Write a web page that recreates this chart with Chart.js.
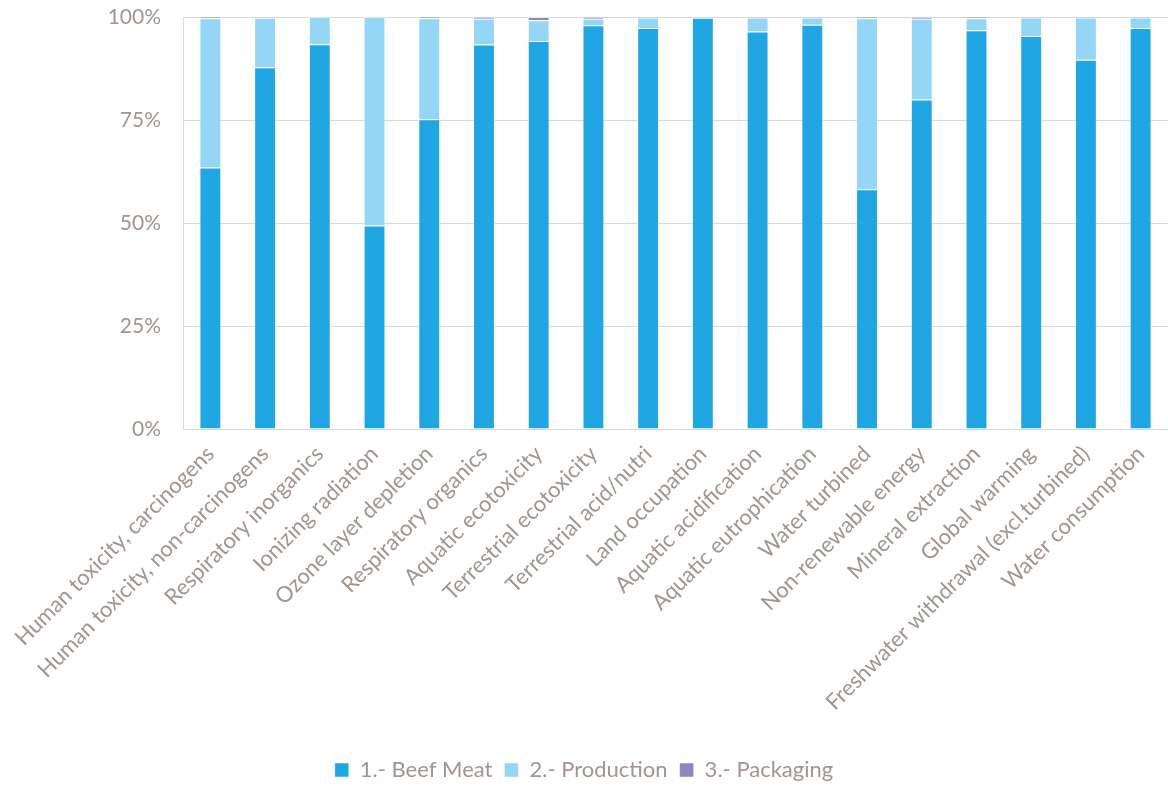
<!DOCTYPE html>
<html>
<head>
<meta charset="utf-8">
<script src="https://cdn.jsdelivr.net/npm/chart.js@4"></script>
<style>
  body { margin: 0; background: #fff; }
  #wrap { width: 1168px; height: 785px; position: relative; }
</style>
</head>
<body>
<div id="wrap"><canvas id="chart"></canvas></div>
<script>
const categories = [
  'Human toxicity, carcinogens', 'Human toxicity, non-carcinogens', 'Respiratory inorganics',
  'Ionizing radiation', 'Ozone layer depletion', 'Respiratory organics', 'Aquatic ecotoxicity',
  'Terrestrial ecotoxicity', 'Terrestrial acid/nutri', 'Land occupation', 'Aquatic acidification',
  'Aquatic eutrophication', 'Water turbined', 'Non-renewable energy', 'Mineral extraction',
  'Global warming', 'Freshwater withdrawal (excl.turbined)', 'Water consumption'
];

// percentages
const beefMeat   = [63.5, 87.8, 93.4, 49.4, 75.2, 93.3, 94.2, 98.0, 97.3, 99.8, 96.5, 98.1, 58.2, 80.0, 96.8, 95.4, 89.6, 97.3];
const production = [36.2, 12.0, 6.6, 50.6, 24.5, 6.3, 5.0, 1.6, 2.6, 0.2, 3.4, 1.8, 41.5, 19.6, 2.9, 4.5, 10.3, 2.6];
const packaging  = [0.3, 0.2, 0.0, 0.0, 0.3, 0.4, 0.8, 0.4, 0.1, 0.0, 0.1, 0.1, 0.3, 0.4, 0.3, 0.1, 0.1, 0.1];

const yTicks = [0, 25, 50, 75, 100];

const textColor = '#A0958F';
const fontFamily = 'Lato, "Open Sans", sans-serif';

const ctx = document.getElementById('chart').getContext('2d');
new Chart(ctx, {
  type: 'bar',
  data: {
    labels: categories,
    datasets: [
      { label: '1.- Beef Meat', data: beefMeat, backgroundColor: '#20A6E2' },
      { label: '2.- Production', data: production, backgroundColor: '#95D5F6' },
      { label: '3.- Packaging', data: packaging, backgroundColor: '#8E86BE' }
    ]
  },
  options: {
    responsive: true,
    maintainAspectRatio: false,
    animation: false,
    datasets: {
      bar: {
        barPercentage: 0.4,
        categoryPercentage: 1.0,
        borderColor: 'rgba(255,255,255,0.45)',
        borderWidth: 1
      }
    },
    layout: { padding: { top: 0, left: 0, right: 0, bottom: -6 } },
    scales: {
      x: {
        stacked: true,
        grid: { display: false },
        border: { display: true, color: '#D9D9D9', width: 1 },
        ticks: {
          color: textColor,
          font: { family: fontFamily, size: 22 },
          autoSkip: false,
          minRotation: 45,
          maxRotation: 45,
          padding: 4
        },
        afterFit: s => { s.height = 318; }
      },
      y: {
        stacked: true,
        min: 0,
        max: 100,
        afterBuildTicks: axis => { axis.ticks = yTicks.map(v => ({ value: v })); },
        grid: { color: '#D9D9D9', lineWidth: 1, drawTicks: false },
        border: { display: true, color: '#D9D9D9', width: 1 },
        ticks: {
          color: textColor,
          font: { family: fontFamily, size: 21 },
          padding: 22,
          callback: v => v + '%'
        },
        afterFit: s => { s.width = 183; s.paddingTop = 17; s.paddingBottom = 12; }
      }
    },
    plugins: {
      legend: {
        position: 'bottom',
        labels: {
          color: textColor,
          font: { family: fontFamily, size: 22 },
          boxWidth: 14,
          boxHeight: 14,
          padding: 12
        }
      },
      tooltip: { enabled: false }
    }
  }
});
</script>
</body>
</html>
